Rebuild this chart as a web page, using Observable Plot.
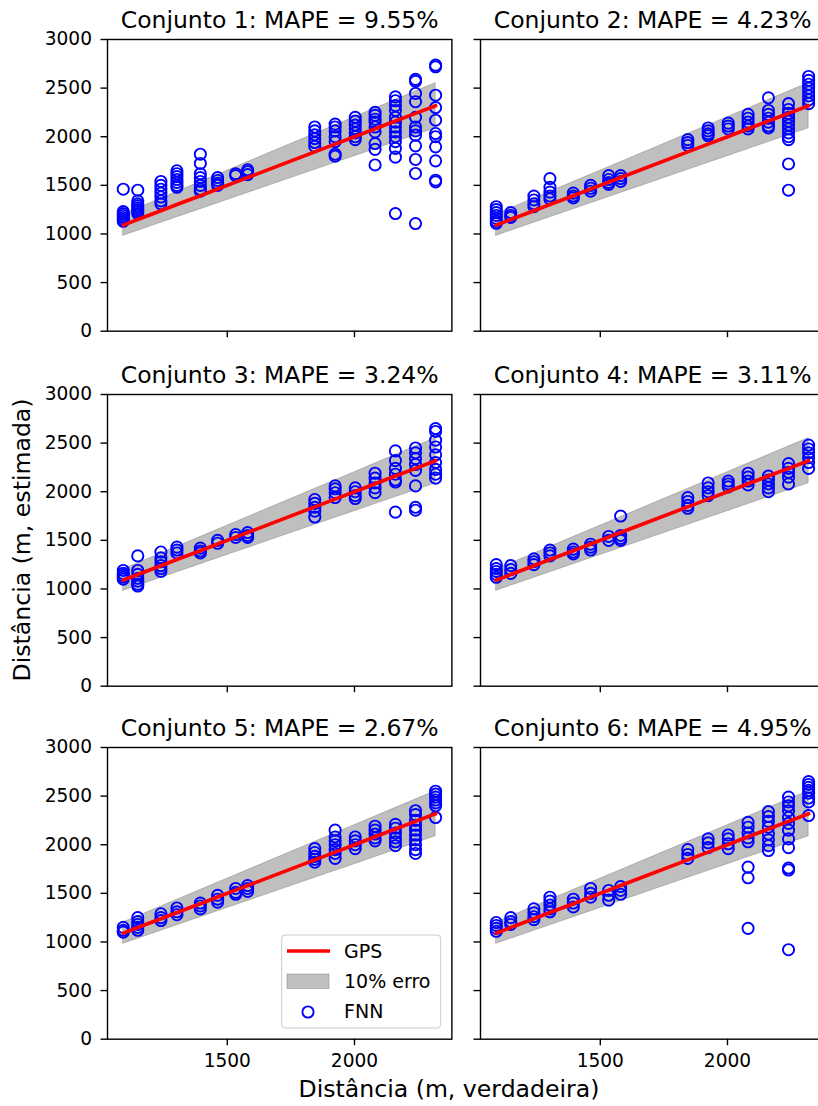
<!DOCTYPE html>
<html>
<head>
<meta charset="utf-8">
<script src="https://cdn.jsdelivr.net/npm/d3@7"></script>
<script src="https://cdn.jsdelivr.net/npm/@observablehq/plot@0.6"></script>
<style>
  html, body { margin: 0; padding: 0; background: #fff; overflow: hidden; }
  #fig { position: relative; width: 818px; height: 1106px; overflow: hidden; background: #fff; font-family: "DejaVu Sans", sans-serif; }
</style>
</head>
<body>
<div id="fig"></div>
<script>
// ---------------- DATA ----------------
// true (GPS) distances, metres
const gpsDist = [1091, 1148, 1239, 1302, 1394, 1462, 1533, 1580, 1844, 1924, 2003, 2081, 2161, 2240, 2319];

const panelTitles = ["Conjunto 1", "Conjunto 2", "Conjunto 3", "Conjunto 4", "Conjunto 5", "Conjunto 6"];
const mapeValues = ["9.55%", "4.23%", "3.24%", "3.11%", "2.67%", "4.95%"];

const yTicks = [0, 500, 1000, 1500, 2000, 2500, 3000];
const xTicks = [1500, 2000];

// FNN estimates per true distance (one inner list per gpsDist entry)
const fnn1 = [
  [1460, 1230, 1210, 1190, 1170, 1150, 1130],
  [1450, 1340, 1310, 1290, 1270, 1250, 1230, 1210],
  [1540, 1500, 1460, 1420, 1380, 1340, 1310],
  [1650, 1620, 1590, 1560, 1530, 1500, 1480],
  [1820, 1725, 1620, 1580, 1540, 1500, 1460, 1440],
  [1580, 1550, 1520, 1500],
  [1620, 1600],
  [1660, 1640, 1610],
  [2100, 2060, 2020, 1980, 1940, 1900],
  [2130, 2100, 2060, 2000, 1950, 1820, 1800],
  [2200, 2160, 2120, 2080, 2040, 2000, 1970],
  [2250, 2220, 2180, 2150, 2100, 2050, 1930, 1870, 1710],
  [2410, 2370, 2320, 2270, 2200, 2150, 2100, 2050, 2000, 1950, 1880, 1790, 1210],
  [2590, 2570, 2445, 2360, 2200, 2100, 2060, 2016, 1906, 1766, 1622, 1107],
  [2736, 2719, 2427, 2300, 2170, 2033, 2000, 1896, 1752, 1553, 1536]
];
const fnn2 = [
  [1280, 1250, 1220, 1190, 1160, 1130, 1110],
  [1220, 1190, 1170],
  [1390, 1350, 1310, 1280],
  [1570, 1480, 1430, 1390, 1360],
  [1420, 1390, 1370],
  [1500, 1470, 1440],
  [1600, 1560, 1530, 1510],
  [1600, 1570, 1540],
  [1970, 1940, 1910],
  [2090, 2060, 2030, 2010],
  [2140, 2110, 2080],
  [2230, 2190, 2150, 2110, 2080],
  [2400, 2270, 2230, 2190, 2150, 2110, 2090],
  [2340, 2280, 2240, 2200, 2160, 2120, 2080, 2040, 2000, 1970, 1720, 1450],
  [2620, 2580, 2540, 2500, 2460, 2420, 2380, 2340]
];
const fnn3 = [
  [1190, 1160, 1140, 1120, 1100],
  [1340, 1190, 1150, 1110, 1080, 1050, 1030],
  [1380, 1320, 1280, 1240, 1210, 1180],
  [1430, 1400, 1370],
  [1420, 1390, 1370],
  [1500, 1470],
  [1560, 1530],
  [1580, 1550, 1530],
  [1920, 1880, 1840, 1800, 1740],
  [2060, 2030, 1990, 1940],
  [2040, 2000, 1960, 1930],
  [2190, 2140, 2090, 2040, 1990],
  [2420, 2320, 2240, 2180, 2120, 2100, 1790],
  [2450, 2400, 2340, 2280, 2220, 2060, 1840, 1810],
  [2650, 2620, 2530, 2460, 2380, 2300, 2230, 2180, 2140]
];
const fnn4 = [
  [1250, 1210, 1180, 1150, 1120],
  [1240, 1200, 1160],
  [1310, 1280, 1250],
  [1400, 1370, 1340],
  [1410, 1380, 1360],
  [1460, 1430, 1400],
  [1540, 1500],
  [1750, 1550, 1520, 1500],
  [1940, 1900, 1860, 1830],
  [2090, 2040, 2000, 1960],
  [2110, 2080, 2050],
  [2190, 2150, 2110, 2070],
  [2160, 2120, 2080, 2040, 2000],
  [2290, 2240, 2200, 2150, 2080],
  [2480, 2440, 2400, 2350, 2300, 2240]
];
const fnn5 = [
  [1150, 1120, 1100],
  [1250, 1210, 1180, 1150, 1120],
  [1290, 1250, 1220],
  [1350, 1310, 1280],
  [1400, 1370, 1340],
  [1480, 1440, 1410],
  [1550, 1510, 1490],
  [1580, 1550, 1520],
  [1960, 1920, 1880, 1850, 1820],
  [2150, 2080, 2040, 2000, 1950, 1910, 1860],
  [2080, 2040, 2000, 1960],
  [2190, 2150, 2110, 2070, 2040],
  [2210, 2170, 2120, 2070, 2030, 1990],
  [2350, 2310, 2250, 2200, 2150, 2100, 2050, 2000, 1950, 1910],
  [2550, 2520, 2490, 2460, 2430, 2400, 2280]
];
const fnn6 = [
  [1200, 1170, 1140, 1110],
  [1250, 1210, 1180],
  [1340, 1300, 1260, 1230],
  [1460, 1420, 1380, 1340, 1310],
  [1440, 1400, 1360],
  [1550, 1500, 1460],
  [1530, 1480, 1430],
  [1570, 1530, 1490],
  [1950, 1900, 1860],
  [2060, 2020, 1970],
  [2100, 2060, 2010, 1960],
  [2230, 2180, 2120, 2070, 2030, 1770, 1660, 1140],
  [2340, 2290, 2240, 2180, 2110, 2050, 1990, 1940],
  [2490, 2440, 2400, 2350, 2280, 2220, 2150, 2060, 1970, 1760, 1740, 920],
  [2650, 2620, 2590, 2560, 2530, 2480, 2440, 2300]
];
const fnnSets = [fnn1, fnn2, fnn3, fnn4, fnn5, fnn6];

// legend labels and axis labels
const legendLabels = ["GPS", "10% erro", "FNN"];
const xLabel = "Distância (m, verdadeira)";
const yLabel = "Distância (m, estimada)";

// ---------------- LAYOUT ----------------
const fig = document.getElementById("fig");
const frameLeft = [107.3, 479.5];
const frameTop = [39.3, 394, 747.3];
const frameW = 344.4, frameH = 291.7;
const mL = 72, mR = 12, mT = 44, mB = 44;
const xDomain = [1029, 2383];
const FONT = "DejaVu Sans";
const TITLE_SIZE = 23.5;

fnnSets.forEach((fnn, k) => {
  const col = k % 2, row = Math.floor(k / 2);
  const pts = gpsDist.flatMap((x, i) => fnn[i].map(y => ({x, y})));
  const chart = Plot.plot({
    width: mL + frameW + mR,
    height: mT + frameH + mB,
    marginLeft: mL, marginRight: mR, marginTop: mT, marginBottom: mB,
    style: {fontFamily: FONT, fontSize: "18.6px", color: "black", background: "transparent", overflow: "visible"},
    x: {domain: xDomain, label: null},
    y: {domain: [0, 3000], label: null},
    marks: [
      Plot.areaY(gpsDist, {x: d => d, y1: d => 0.9 * d, y2: d => 1.1 * d, fill: "gray", fillOpacity: 0.5, stroke: "gray", strokeOpacity: 0.5, strokeWidth: 1}),
      Plot.dot(pts, {x: "x", y: "y", r: 5.6, stroke: "blue", strokeWidth: 1.9, fill: "none"}),
      Plot.line(gpsDist, {x: d => d, y: d => d, stroke: "red", strokeWidth: 3.7}),
      Plot.frame({stroke: "black", strokeWidth: 1.4}),
      Plot.axisX({ticks: xTicks, tickSize: 6.5, tickPadding: 8, label: null, strokeWidth: 1.4,
                  tickFormat: row === 2 ? (d => String(d)) : (() => "")}),
      Plot.axisY({ticks: yTicks, tickSize: 6.5, tickPadding: 9, label: null, strokeWidth: 1.4,
                  tickFormat: col === 0 ? (d => String(d)) : (() => "")}),
      Plot.text([`${panelTitles[k]}: MAPE = ${mapeValues[k]}`], {frameAnchor: "top", lineAnchor: "bottom", dy: -11, fontSize: TITLE_SIZE, fill: "black", text: d => d})
    ]
  });
  chart.style.position = "absolute";
  chart.style.left = (frameLeft[col] - mL) + "px";
  chart.style.top = (frameTop[row] - mT) + "px";
  fig.appendChild(chart);
});

// ---------- overlay: figure labels + legend ----------
const NS = "http://www.w3.org/2000/svg";
const ov = document.createElementNS(NS, "svg");
ov.setAttribute("width", 818); ov.setAttribute("height", 1106);
ov.style.position = "absolute"; ov.style.left = "0px"; ov.style.top = "0px";
ov.style.fontFamily = FONT;
function el(tag, attrs, text) {
  const e = document.createElementNS(NS, tag);
  for (const k in attrs) e.setAttribute(k, attrs[k]);
  if (text != null) e.textContent = text;
  ov.appendChild(e);
  return e;
}
el("text", {x: 449, y: 1097, "text-anchor": "middle", "font-size": 23.6, fill: "black"}, xLabel);
el("text", {x: 0, y: 0, transform: "translate(22,540) rotate(-90)", "text-anchor": "middle", "dominant-baseline": "central", "font-size": 23.6, fill: "black"}, yLabel);

// legend (inside Conjunto 5)
el("rect", {x: 281.7, y: 935, width: 159, height: 93, rx: 3.5, fill: "white", "fill-opacity": 0.8, stroke: "#cccccc", "stroke-width": 1});
el("line", {x1: 287, x2: 330, y1: 951, y2: 951, stroke: "red", "stroke-width": 3.7});
el("rect", {x: 287, y: 974, width: 42, height: 14.5, fill: "gray", "fill-opacity": 0.5, stroke: "gray", "stroke-opacity": 0.5});
el("circle", {cx: 308, cy: 1012, r: 5.6, fill: "none", stroke: "blue", "stroke-width": 1.9});
[951, 981, 1011].forEach((y, i) => {
  el("text", {x: 344, y: y, "dominant-baseline": "central", "font-size": 19, fill: "black"}, legendLabels[i]);
});
fig.appendChild(ov);
</script>
</body>
</html>
